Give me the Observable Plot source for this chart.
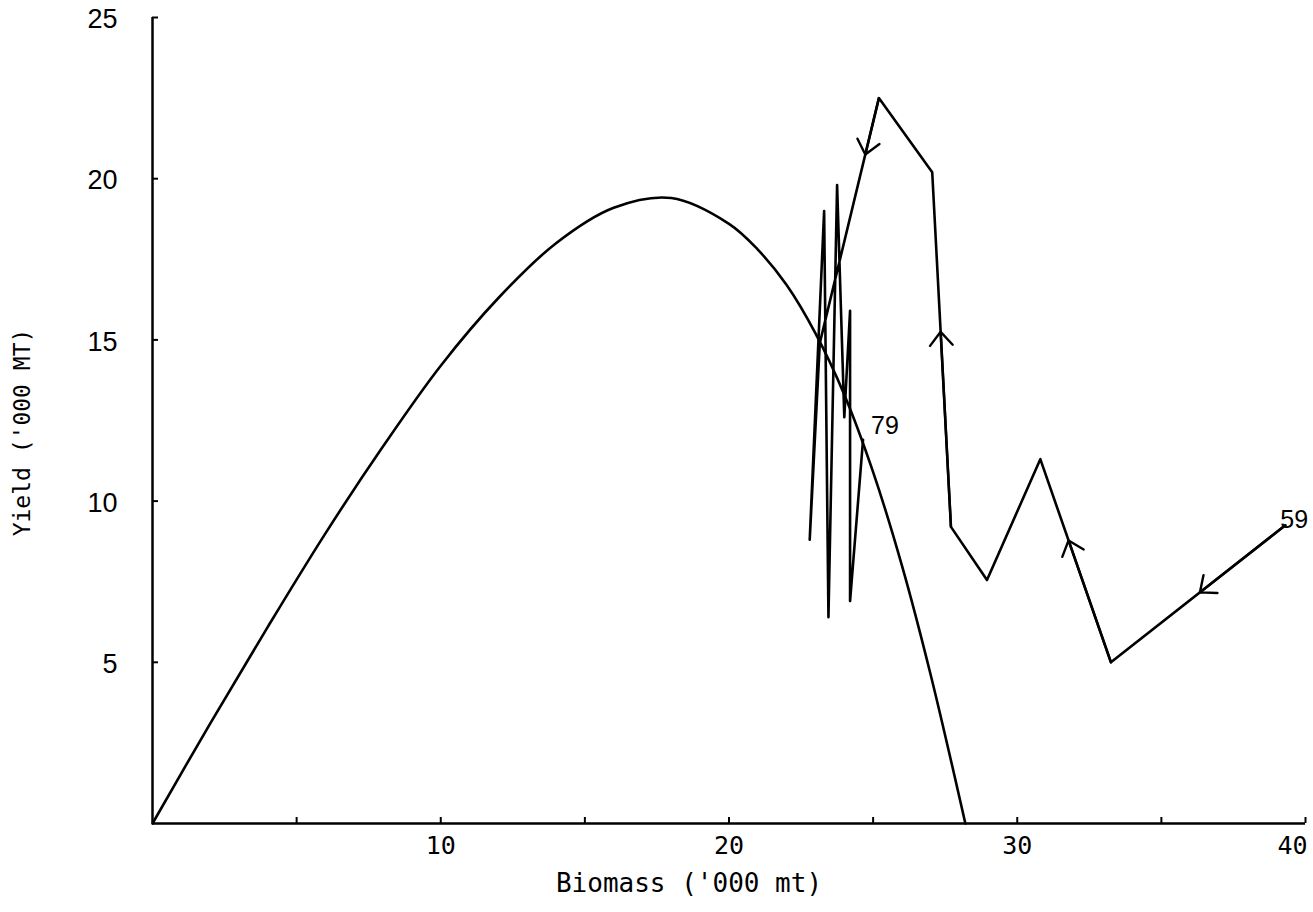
<!DOCTYPE html>
<html>
<head>
<meta charset="utf-8">
<script src="https://cdn.jsdelivr.net/npm/d3@7"></script>
<script src="https://cdn.jsdelivr.net/npm/@observablehq/plot@0.6"></script>
<style>
  html, body { margin: 0; padding: 0; background: #ffffff; }
  svg { display: block; }
</style>
</head>
<body>
<div id="chart"></div>
<script>
// ---- Data ----
// Equilibrium yield curve (Biomass '000 mt -> Yield '000 MT)
const curveBiomass = [0, 2, 4, 6, 8, 10, 12, 14, 16, 18, 20, 21, 22, 23, 24, 25, 26, 27, 28.2];
const curveYield   = [0, 3.1, 6.1, 9.0, 11.7, 14.2, 16.3, 18.0, 19.1, 19.4, 18.6, 17.8, 16.7, 15.2, 13.3, 10.9, 8.0, 4.6, 0];

// Observed trajectory, from 1959 (first) to 1979 (last)
const trajBiomass = [39.3, 33.25, 30.8, 28.95, 27.7, 27.05, 25.2, 23.15, 22.8, 23.3, 23.45, 23.75, 24.0, 24.2, 24.2, 24.65];
const trajYield   = [9.25, 5.0, 11.3, 7.55, 9.2, 20.2, 22.5, 14.9, 8.8, 19.0, 6.4, 19.8, 12.6, 15.9, 6.9, 11.9];
const endLabels = ["59", "79"];

// Direction arrows: segment index (start point) and fraction along the segment
const arrowSegment  = [0, 1, 4, 6];
const arrowFraction = [0.49, 0.6, 0.55, 0.23];

// Axes
const xTickValues = [5, 10, 15, 20, 25, 30, 35, 40];
const xTickLabels = [10, 20, 30, 40];
const yTickValues = [5, 10, 15, 20, 25];
const xTitle = "Biomass ('000 mt)";
const yTitle = "Yield ('000 MT)";

// ---- Build tables ----
const curve = curveBiomass.map((b, i) => ({b, y: curveYield[i]}));
const traj = trajBiomass.map((b, i) => ({b, y: trajYield[i]}));
const arrows = arrowSegment.map((i, k) => {
  const t = arrowFraction[k];
  const a = traj[i], c = traj[i + 1];
  return {x1: a.b, y1: a.y, x2: a.b + (c.b - a.b) * t, y2: a.y + (c.y - a.y) * t};
});
const first = {b: traj[0].b, y: traj[0].y, label: endLabels[0]};
const last = {b: traj[traj.length - 1].b, y: traj[traj.length - 1].y, label: endLabels[1]};
const xMax = xTickLabels[xTickLabels.length - 1];

const W = 1313, H = 912;
const mL = 152, mR = 8, mT = 17, mB = 89;
const frameW = W - mL - mR, frameH = H - mT - mB;
const mono = "DejaVu Sans Mono, monospace";
const sans = "Liberation Sans, Arial, sans-serif";

const chart = Plot.plot({
  width: W,
  height: H,
  marginLeft: mL,
  marginRight: mR,
  marginTop: mT,
  marginBottom: mB,
  x: {domain: [0, 40], axis: null},
  y: {domain: [0, 25], axis: null},
  style: {background: "#ffffff", color: "#000000", overflow: "visible"},
  marks: [
    // axis lines
    Plot.ruleX([0], {stroke: "#000", strokeWidth: 2.5}),
    Plot.ruleY([0], {stroke: "#000", strokeWidth: 2.5}),
    // inward tick marks
    Plot.tickX(xTickValues, {x: d => d, insetTop: frameH - 6, stroke: "#000", strokeWidth: 2}),
    Plot.tickY(yTickValues, {y: d => d, insetRight: frameW - 6, stroke: "#000", strokeWidth: 2}),
    // tick labels
    Plot.text(xTickLabels.filter(d => d !== xMax), {x: d => d, text: d => String(d), frameAnchor: "bottom", lineAnchor: "middle", dy: 22, fontFamily: mono, fontSize: 25, fill: "#000"}),
    Plot.text([xMax], {x: d => d, text: d => String(d), frameAnchor: "bottom", lineAnchor: "middle", textAnchor: "middle", dx: -13, dy: 22, fontFamily: mono, fontSize: 25, fill: "#000"}),
    Plot.text(yTickValues, {y: d => d, text: d => String(d), frameAnchor: "left", dx: -35, dy: 2, textAnchor: "end", lineAnchor: "middle", fontFamily: sans, fontSize: 27, fill: "#000"}),
    // axis titles
    Plot.text([xTitle], {frameAnchor: "bottom", textAnchor: "middle", lineAnchor: "middle", dx: -40, dy: 60, fontFamily: mono, fontSize: 26, fill: "#000"}),
    Plot.text([yTitle], {frameAnchor: "left", textAnchor: "middle", lineAnchor: "middle", dx: -130, dy: 12, rotate: -90, fontFamily: mono, fontSize: 23, fill: "#000"}),
    // yield curve
    Plot.line(curve, {x: "b", y: "y", curve: "catmull-rom", stroke: "#000", strokeWidth: 2.6}),
    // trajectory
    Plot.line(traj, {x: "b", y: "y", stroke: "#000", strokeWidth: 2.6, strokeLinejoin: "round"}),
    Plot.arrow(arrows, {x1: "x1", y1: "y1", x2: "x2", y2: "y2", stroke: "#000", strokeWidth: 2.4, headLength: 11, headAngle: 80}),
    // end labels
    Plot.text([first], {x: "b", y: "y", text: "label", textAnchor: "start", lineAnchor: "middle", dx: -5, dy: -5, fontFamily: sans, fontSize: 25, fill: "#000"}),
    Plot.text([last], {x: "b", y: "y", text: "label", textAnchor: "start", lineAnchor: "middle", dx: 8, dy: -14, fontFamily: sans, fontSize: 25, fill: "#000"})
  ]
});
document.getElementById("chart").appendChild(chart);
</script>
</body>
</html>
